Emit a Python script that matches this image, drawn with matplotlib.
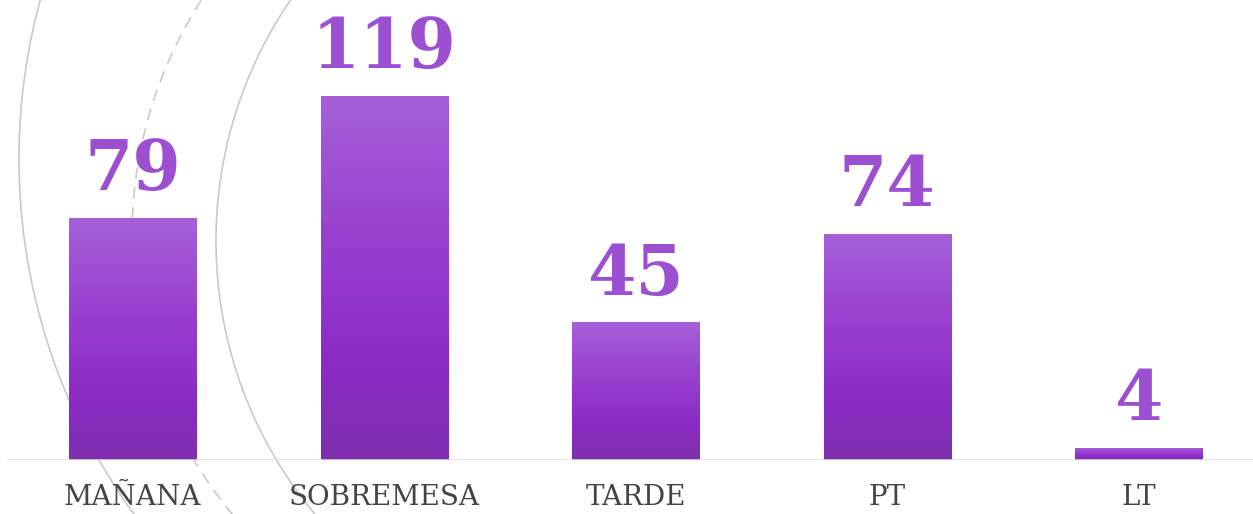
import numpy as np
import matplotlib
matplotlib.use("Agg")
import matplotlib.pyplot as plt
from matplotlib.colors import LinearSegmentedColormap

categories = ["MAÑANA", "SOBREMESA", "TARDE", "PT", "LT"]
values = [79, 119, 45, 74, 4]

W, H = 1253, 514
fig = plt.figure(figsize=(W / 100, H / 100), dpi=100)

# background decoration: grey arcs on the left (pixel coords, y down)
bg = fig.add_axes([0, 0, 1, 1])
bg.set_xlim(0, W)
bg.set_ylim(H, 0)
bg.axis("off")
arcs = [  # cx, cy, r, linestyle
    (625, 159, 606, "-"),
    (568, 236, 436, (0, (7, 5))),
    (643, 241, 427, "-"),
]
t = np.radians(np.linspace(120, 240, 600))
for cx, cy, r, ls in arcs:
    bg.plot(cx + r * np.cos(t), cy + r * np.sin(t), color="#c9c9c9", lw=1.2, ls=ls)

# main bar chart
base_px = 460
px_per_unit = 3.06
ax = fig.add_axes([7 / W, (H - base_px) / H, (W - 7) / W, base_px / H])
ax.patch.set_alpha(0)
x = np.arange(len(categories))
spacing = 251.5
ax.set_xlim(-0.5, -0.5 + (W - 7) / spacing)
ax.set_ylim(0, base_px / px_per_unit)

cmap = LinearSegmentedColormap.from_list(
    "purp", [(0, "#7e2fae"), (0.25, "#8a2bc4"), (0.6, "#983fcf"), (1, "#a660d9")]
)
grad = np.linspace(0, 1, 256).reshape(-1, 1)
bars = ax.bar(x, values, width=0.505, color="none", zorder=2)
for b in bars:
    x0, w, h = b.get_x(), b.get_width(), b.get_height()
    im = ax.imshow(grad, cmap=cmap, origin="lower", aspect="auto",
                   extent=(x0, x0 + w, 0, h), zorder=2)
    im.set_clip_path(b)

for xi, v in zip(x, values):
    ax.annotate(str(v), (xi, v), xytext=(0, 20), textcoords="offset points",
                ha="center", va="baseline", fontsize=50, fontweight="bold",
                family="DejaVu Serif", color="#9c4fd1")

ax.axhline(0, color="#e0e0e0", lw=1.8, zorder=3)
ax.set_xticks(x)
ax.set_xticklabels(categories, family="DejaVu Serif", fontsize=20, color="#444444")
ax.tick_params(axis="x", length=0, pad=17)
ax.set_yticks([])
for s in ax.spines.values():
    s.set_visible(False)

fig.savefig("out.png", dpi=100)
